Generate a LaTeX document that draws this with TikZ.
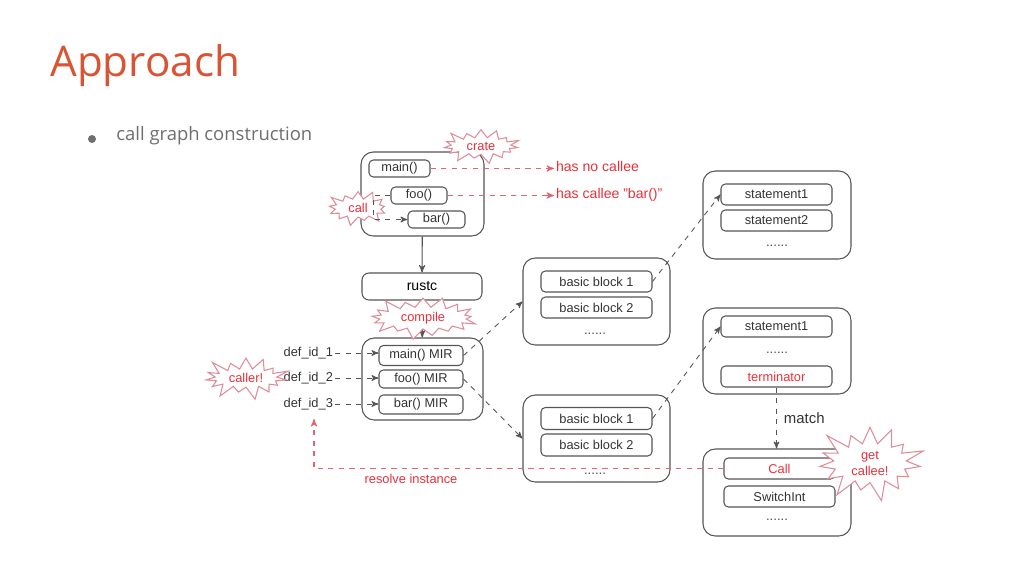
\documentclass[tikz,border=0pt]{standalone}
\usepackage{fontspec}
\setmainfont{Liberation Sans}
\newfontfamily\slidefont{Open Sans}
\usepackage{tikz}
\usetikzlibrary{shapes,arrows}

\definecolor{titleorange}{RGB}{218,84,52}
\definecolor{slidegrey}{RGB}{110,110,110}
\definecolor{boxgrey}{RGB}{85,85,85}
\definecolor{hotred}{RGB}{232,48,58}
\definecolor{burstpink}{RGB}{222,140,152}
\definecolor{dashred}{RGB}{226,100,112}

\begin{document}
\begin{tikzpicture}
		[
		x=0.02cm, y=-0.02cm,
		sz/.code 2 args = {\pgfmathsetlengthmacro\szw{#1*0.02cm}\pgfmathsetlengthmacro\szh{#2*0.02cm}%
			\tikzset{minimum width=\szw, minimum height=\szh}},
		outer/.style = {draw=boxgrey, line width=0.6pt, rounded corners=7pt, inner sep=0pt},
		inner/.style = {draw=boxgrey, line width=0.6pt, rounded corners=2.5pt, inner sep=0pt,
			font=\fontsize{7.3}{9}\selectfont, text=black!80},
		txt/.style = {font=\fontsize{7.3}{9}\selectfont, text=black!80, inner sep=1pt},
		redtxt/.style = {font=\fontsize{7.3}{9}\selectfont, text=hotred, inner sep=1pt},
		dots/.style = {font=\fontsize{7.5}{8}\selectfont, text=black!70, inner sep=0pt},
		burst/.style = {starburst, draw=burstpink, fill=white, line width=0.6pt, text=hotred,
			font=\fontsize{7.3}{9}\selectfont, align=center, inner sep=1pt},
		gline/.style = {draw=boxgrey, line width=0.6pt, ->, >=stealth'},
		greydash/.style = {draw=boxgrey, line width=0.5pt, dashed, ->, >=stealth'},
		reddash/.style = {draw=dashred, line width=0.6pt, dashed, ->, >=stealth'}
		]
		
		\useasboundingbox (0,0) rectangle (1024,576);
		
		% slide title and bullet
		\node [anchor=west, inner sep=0pt, text=titleorange, font=\slidefont\fontsize{24}{27}\selectfont] (title) at (50,66) {Approach};
		\node [circle, fill=slidegrey, inner sep=0pt, sz={8}{8}] (bullet) at (92,139) {};
		\node [anchor=west, inner sep=0pt, text=slidegrey, font=\slidefont\fontsize{10.5}{12}\selectfont] (topic) at (116,136) {call graph construction};
		
		% crate
		\node [outer, sz={123}{84}] (crate) at (422.5,194) {};
		\node [burst, sz={66}{34}, starburst point height=0.2cm, starburst points=13] (callburst) at (358,208) {call};
		\node [inner, sz={61}{17}] (main) at (399.5,168.5) {main()};
		\node [inner, sz={56}{17}] (foo) at (419,195.5) {foo()};
		\node [inner, sz={57}{17}] (bar) at (436.5,219.5) {bar()};
		\node [redtxt, anchor=west, font=\fontsize{8}{9}\selectfont] (nocallee) at (554,166) {has no callee};
		\node [redtxt, anchor=west, font=\fontsize{8}{9}\selectfont] (hascallee) at (554,195) {has callee "bar()"};
		
		\draw [reddash] (main.east) -- (main.east -| nocallee.west);
		\draw [reddash] (foo.east) -- (foo.east -| hascallee.west);
		\draw [greydash] (foo.west) -- ++(-17,0) |- (bar.west);
		
		% rustc and MIR
		\node [outer, sz={120}{27}, rounded corners=4pt, font=\fontsize{8}{9}\selectfont] (rustc) at (422,286.5) {rustc};
		\node [outer, sz={121}{82}] (mir) at (422.5,379) {};
		\node [inner, sz={84}{20}] (mainmir) at (421,355.5) {main() MIR};
		\node [inner, sz={84}{18}] (foomir) at (421,379) {foo() MIR};
		\node [inner, sz={84}{19}] (barmir) at (421,404.5) {bar() MIR};
		\draw [gline] (crate) -- (rustc);
		\draw [gline] (rustc) -- (mir);
		
		\node [txt, anchor=east] (defa) at (335,353) {def\_id\_1};
		\node [txt, anchor=east] (defb) at (335,378) {def\_id\_2};
		\node [txt, anchor=east] (defc) at (335,404) {def\_id\_3};
		\draw [greydash] (defa.east) -- (mainmir.west |- defa.east);
		\draw [greydash] (defb.east) -- (foomir.west |- defb.east);
		\draw [greydash] (defc.east) -- (barmir.west |- defc.east);
		
		% basic blocks
		\node [outer, sz={147}{87}] (bbA) at (596.5,301.5) {};
		\node [inner, sz={111}{21}] (bbAa) at (596.5,281.5) {basic block 1};
		\node [inner, sz={111}{21}] (bbAb) at (596.5,307.5) {basic block 2};
		\node [dots] (bbAdots) at (595,334) {......};
		\node [outer, sz={147}{87}] (bbB) at (596.5,438.5) {};
		\node [inner, sz={111}{22}] (bbBa) at (596.5,418.5) {basic block 1};
		\node [inner, sz={111}{22}] (bbBb) at (596.5,445) {basic block 2};
		\node [dots] (bbBdots) at (595,474) {......};
		\draw [greydash] (mainmir.east) -- (bbA.west);
		\draw [greydash] (foomir.east) -- (bbB.west);
		
		% statements
		\node [outer, sz={148}{88}] (stA) at (777,215) {};
		\node [inner, sz={111}{21}] (stAa) at (776.5,194.5) {statement1};
		\node [inner, sz={111}{21}] (stAb) at (776.5,220.5) {statement2};
		\node [dots] (stAdots) at (777,246) {......};
		\node [outer, sz={148}{86}] (stB) at (777,351) {};
		\node [inner, sz={111}{21}] (stBa) at (776.5,326.5) {statement1};
		\node [dots] (stBdots) at (777,353) {......};
		\node [inner, sz={111}{21}, text=hotred] (term) at (776.5,376.5) {terminator};
		\draw [greydash] (bbAa.east) -- (stAa.west);
		\draw [greydash] (bbBa.east) -- (stBa.west);
		
		% terminator kinds
		\node [outer, sz={148}{87}] (stC) at (777,492.5) {};
		\node [inner, sz={111}{21}, text=hotred] (call) at (779.5,468.5) {Call};
		\node [inner, sz={111}{21}] (switch) at (779.5,496.5) {SwitchInt};
		\node [dots] (stCdots) at (777,520) {......};
		\draw [greydash] (term.south) -- node [txt, right=3pt, font=\fontsize{8.5}{9}\selectfont] {match} (stC.north -| term.south);
		
		% back to the caller
		\coordinate (ret) at (314,419);
		\draw [reddash] (call.west) -| (ret);
		\node [redtxt] (resolve) at (411,479) {resolve instance};
		
		% bursts
		\node [burst, sz={82}{36}, starburst point height=0.22cm, starburst points=15] (crateburst) at (481,146) {crate};
		\node [burst, sz={112}{38}, starburst point height=0.25cm, starburst points=17] (compileburst) at (423,318) {compile};
		\node [burst, sz={92}{44}, starburst point height=0.3cm, starburst points=15] (callerburst) at (246,378) {caller!};
		\node [burst, sz={118}{74}, starburst point height=0.45cm, starburst points=15] (getburst) at (870,463) {get\\callee!};
		
		\end{tikzpicture}
\end{document}
